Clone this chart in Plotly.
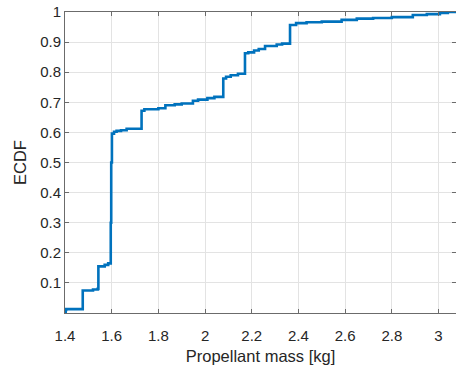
import plotly.graph_objects as go

# ECDF: each mass value is where the ECDF reaches the paired level
mass = [1.400, 1.403, 1.405, 1.476, 1.520, 1.540, 1.543, 1.570, 1.585, 1.596,
        1.598, 1.601, 1.610, 1.621, 1.640, 1.664, 1.728, 1.740, 1.800, 1.830,
        1.870, 1.900, 1.948, 1.970, 2.010, 2.040, 2.078, 2.090, 2.110, 2.141,
        2.171, 2.185, 2.210, 2.230, 2.257, 2.307, 2.330, 2.364, 2.390, 2.435,
        2.500, 2.585, 2.650, 2.720, 2.800, 2.890, 2.950, 3.006, 3.040, 3.075]
ecdf = [0.000, 0.010, 0.013, 0.075, 0.078, 0.080, 0.155, 0.160, 0.165, 0.300,
        0.500, 0.596, 0.602, 0.605, 0.607, 0.612, 0.672, 0.677, 0.680, 0.690,
        0.693, 0.696, 0.705, 0.709, 0.714, 0.718, 0.779, 0.785, 0.790, 0.795,
        0.863, 0.866, 0.872, 0.877, 0.887, 0.892, 0.895, 0.957, 0.963, 0.966,
        0.968, 0.974, 0.978, 0.980, 0.983, 0.990, 0.993, 0.997, 1.000, 1.000]

x_ticks = [1.4, 1.6, 1.8, 2.0, 2.2, 2.4, 2.6, 2.8, 3.0]
x_tick_text = ["1.4", "1.6", "1.8", "2", "2.2", "2.4", "2.6", "2.8", "3"]
y_ticks = [0.1, 0.2, 0.3, 0.4, 0.5, 0.6, 0.7, 0.8, 0.9, 1.0]
y_tick_text = ["0.1", "0.2", "0.3", "0.4", "0.5", "0.6", "0.7", "0.8", "0.9", "1"]

FONT = "Liberation Sans, Arial, Helvetica, sans-serif"

fig = go.Figure()
fig.add_trace(go.Scatter(
    x=mass, y=ecdf, mode="lines", line=dict(color="#0072BD", width=2.6, shape="hv"),
    showlegend=False, hoverinfo="skip"))

axis_common = dict(
    showgrid=True, gridcolor="#e3e3e3", gridwidth=1,
    showline=True, linecolor="#6b6b6b", linewidth=1, mirror="ticks",
    ticks="inside", ticklen=4, tickcolor="#6b6b6b", zeroline=False,
    tickfont=dict(family=FONT, size=15, color="#262626"),
)

fig.update_layout(
    width=456, height=371,
    margin=dict(l=65, r=0, t=12, b=58, autoexpand=False),
    paper_bgcolor="white", plot_bgcolor="white",
    xaxis=dict(range=[1.4, 3.075], tickvals=x_ticks, ticktext=x_tick_text,
               ticklabelstandoff=9,
               title=dict(text="Propellant mass [kg]", standoff=7,
                          font=dict(family=FONT, size=16.5, color="#262626")),
               **axis_common),
    yaxis=dict(range=[0, 1], tickvals=y_ticks, ticktext=y_tick_text,
               title=dict(text="ECDF", standoff=9,
                          font=dict(family=FONT, size=16.5, color="#262626")),
               **axis_common),
)

fig.write_html("out.html", config={"displayModeBar": False},
               post_script="document.body.style.margin='0px';")
